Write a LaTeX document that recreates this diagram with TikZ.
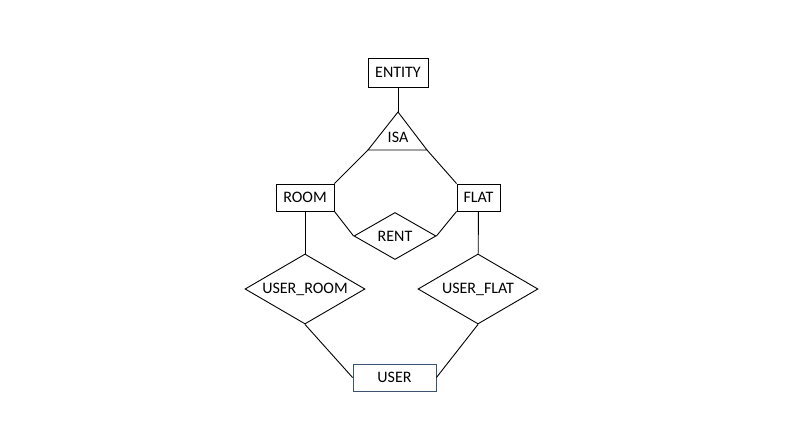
\documentclass[tikz,border=0pt]{standalone}
\usepackage{fontspec}
\setmainfont{Carlito}
\usetikzlibrary{shapes.geometric}
\definecolor{userblue}{RGB}{60,82,112}

\begin{document}
\begin{tikzpicture}[x=1pt,y=-1pt,line width=0.9pt,font=\fontsize{16}{18}\selectfont,
  entity/.style={rectangle,draw,minimum height=27pt,inner sep=0pt},
  relation/.style={diamond,draw,inner sep=0pt}]
\useasboundingbox (0,0) rectangle (801,446);
\node[entity] (ENTITY) [minimum width=60pt,minimum height=29pt] at (398,72.5) {ENTITY};
\coordinate (isatop) at (398,112);
\coordinate (isaleft) at (368,150);
\coordinate (isaright) at (427,150);
\draw (isatop) -- (isaleft) -- (isaright) -- cycle;
\node (ISA) at (398,137) {ISA};
\node[entity] (ROOM) [minimum width=58pt] at (305,197.5) {ROOM};
\node[entity] (FLAT) [minimum width=43pt] at (478.5,197.5) {FLAT};
\node[relation] (RENT) [minimum width=82pt,minimum height=47pt,aspect=1.75] at (395,236) {RENT};
\node[relation] (UR) [minimum width=120pt,minimum height=70pt,aspect=1.7] at (305,289) {USER\_ROOM};
\node[relation] (UF) [minimum width=120pt,minimum height=70pt,aspect=1.7] at (478,289) {USER\_FLAT};
\node[entity] (USER) [minimum width=83pt,draw=userblue] at (394.5,377.5) {USER};
\path
(ENTITY) edge (isatop)
(isaleft) edge (ROOM.north east)
(isaright) edge (FLAT.north west)
(ROOM.south east) edge (RENT.west)
(FLAT.south west) edge (RENT.east)
(ROOM) edge (UR)
(FLAT) edge (UF)
(UR.south) edge (USER.west)
(UF.south) edge (USER.east);
\end{tikzpicture}
\end{document}
